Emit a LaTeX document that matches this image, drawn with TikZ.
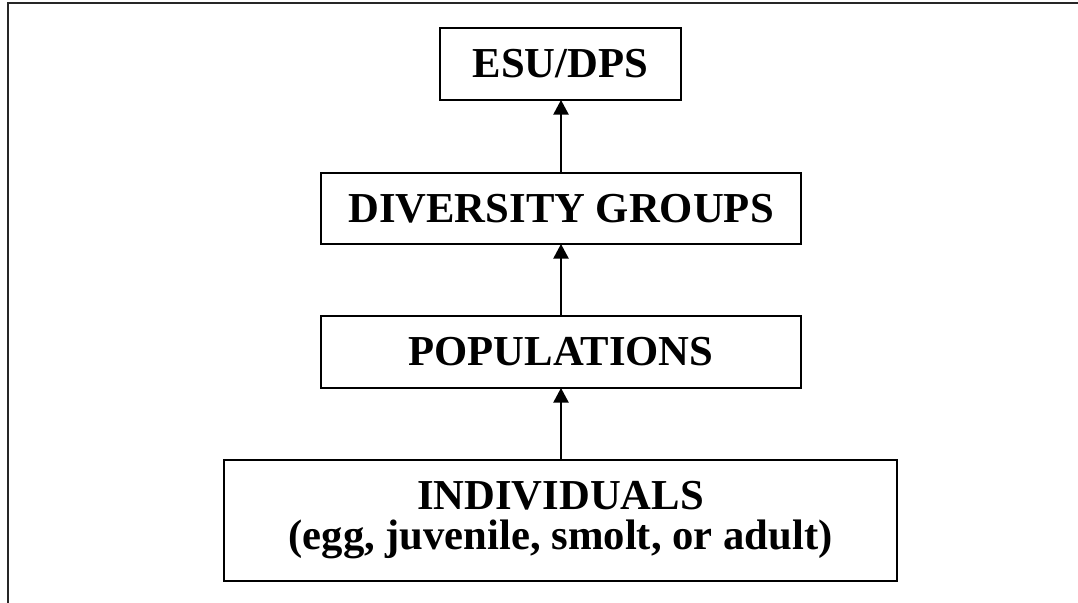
\documentclass[tikz,border=0pt]{standalone}
\usepackage{fontspec}
\setmainfont{Liberation Serif}
\usetikzlibrary{arrows.meta}
\begin{document}
\begin{tikzpicture}[x=0.75pt,y=-0.75pt,
  levelbox/.style={draw=black,line width=1.1pt,inner sep=0pt,outer sep=0pt,align=center,
    font=\fontsize{32}{30}\selectfont\bfseries},
  uparrow/.style={line width=1.1pt,-{Triangle[length=11pt,width=11.5pt]}}]
\useasboundingbox (0,0) rectangle (1078,603);
\draw[line width=1.5pt,black!85] (1078,3) -- (8,3) -- (8,603);
\node[levelbox,minimum width=180.75pt,minimum height=54pt] (esu) at (560.5,64) {ESU/DPS};
\node[levelbox,minimum width=360pt,minimum height=53.25pt] (div) at (561,208.5) {DIVERSITY GROUPS};
\node[levelbox,minimum width=360pt,minimum height=54pt] (pop) at (561,352) {POPULATIONS};
\node[levelbox,minimum width=504.75pt,minimum height=90.75pt] (ind) at (560.5,520.5) {INDIVIDUALS\\(egg, juvenile, smolt, or adult)};
\draw[uparrow] (div.north -| pop.north) -- (esu.south -| pop.north);
\draw[uparrow] (pop.north) -- (div.south);
\draw[uparrow] (ind.north -| pop.north) -- (pop.south);
\end{tikzpicture}
\end{document}
